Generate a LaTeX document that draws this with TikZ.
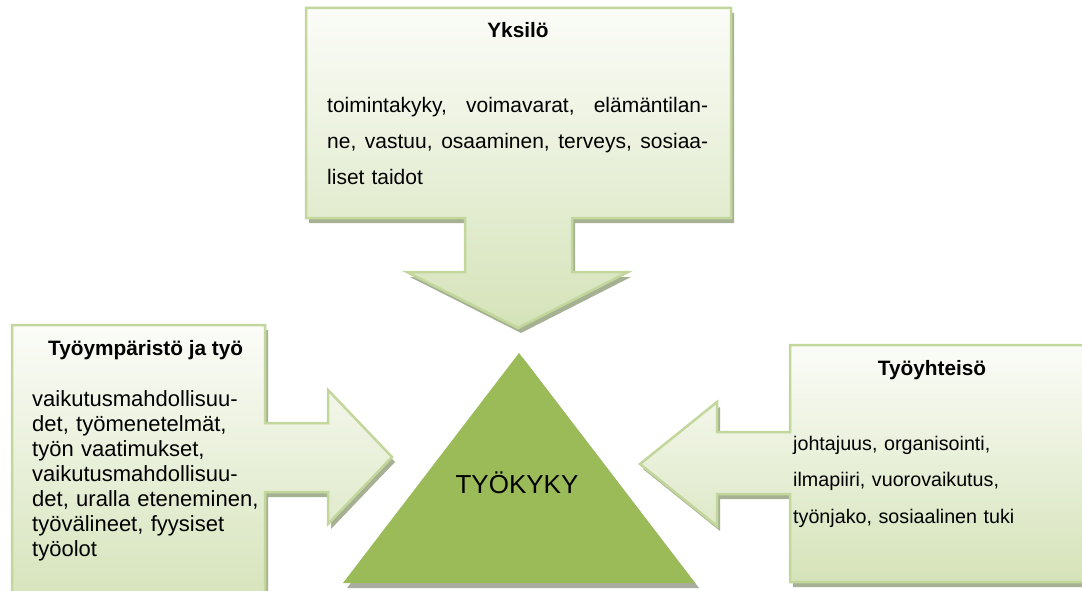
\documentclass[tikz,border=0pt]{standalone}
\usepackage{fontspec}
\setmainfont{Liberation Sans}

\definecolor{calloutborder}{HTML}{C3D69B}
\definecolor{callouttop}{HTML}{FBFCF8}
\definecolor{calloutbottom}{HTML}{D5E3B9}
\definecolor{calloutshadow}{HTML}{A6B194}
\definecolor{trianglefill}{HTML}{9BBB59}
\definecolor{triangleshadow}{HTML}{A9ADA0}

% Outlines of the three callouts (box + stem + arrow head), in pixel units
\newcommand\yksilopath[1]{\path[#1] (306,8) -- (731,8) -- (731,218) -- (572,218)
  -- (572,272) -- (628,272) -- (518,328) -- (407,272) -- (465,272) -- (465,218)
  -- (306,218) -- cycle;}
\newcommand\ymparistopath[1]{\path[#1] (12,325) -- (265,325) -- (265,423) -- (328,423)
  -- (328,390) -- (392,457) -- (328,524) -- (328,492) -- (265,492) -- (265,610)
  -- (12,610) -- cycle;}
\newcommand\yhteisopath[1]{\path[#1] (790,345) -- (1095,345) -- (1095,582) -- (790,582)
  -- (790,494) -- (717,494) -- (717,526) -- (640,464) -- (717,402) -- (717,432)
  -- (790,432) -- cycle;}
\newcommand\kolmiopath[1]{\path[#1] (519,353) -- (695,583) -- (343,583) -- cycle;}

% a justified line: interword spaces stretch to fill the given width
\newcommand\fullline[2]{\makebox[#1][s]{\spaceskip=0pt\xspaceskip=0pt\relax #2}}

\tikzset{
  callout/.style={draw=calloutborder, line width=2.5pt, line join=miter,
    top color=callouttop, bottom color=calloutbottom},
  calloutshade/.style={fill=calloutshadow, shift={(3,5)}},
  titletext/.style={font=\fontsize{20.8}{25}\selectfont\bfseries, inner sep=0pt},
  bodytext/.style={inner sep=0pt, anchor=base west, align=left},
}

\begin{document}
\begin{tikzpicture}[x=1pt,y=-1pt]
  \useasboundingbox (0,0) rectangle (1082,591);
  \fill[white] (0,0) rectangle (1082,591);

  % callouts with their drop shadows
  \yksilopath{calloutshade}
  \ymparistopath{calloutshade}
  \yhteisopath{calloutshade}
  \yksilopath{callout}
  \ymparistopath{callout}
  \yhteisopath{callout}

  % central triangle
  \kolmiopath{fill=triangleshadow, shift={(4,5)}}
  \kolmiopath{fill=trianglefill}

  % texts
  \node[titletext, anchor=base] (yksilo) at (518,38) {Yksilö};
  \node[bodytext, text width=381pt, font=\fontsize{21}{36}\selectfont]
    (yksiloteksti) at (327,113)
    {\fullline{381pt}{toimintakyky, voimavarat, elämäntilan-}\\
     \fullline{381pt}{ne, vastuu, osaaminen, terveys, sosiaa-}\\
     liset taidot};

  \node[titletext, anchor=base west] (ymparisto) at (48,355) {Työympäristö ja työ};
  \node[bodytext, text width=240pt, font=\fontsize{22}{25}\selectfont]
    (ymparistoteksti) at (32,406)
    {vaikutusmahdollisuu-\\det, työmenetelmät,\\työn vaatimukset,\\vaikutusmahdollisuu-\\det, uralla eteneminen,\\työvälineet, fyysiset\\työolot};

  \node[titletext, anchor=base] (yhteiso) at (932,375) {Työyhteisö};
  \node[bodytext, text width=285pt, font=\fontsize{19.7}{36.5}\selectfont]
    (yhteisoteksti) at (793,450)
    {johtajuus, organisointi,\\ilmapiiri, vuorovaikutus,\\työnjako, sosiaalinen tuki};

  \node[font=\fontsize{26}{30}\selectfont, inner sep=0pt, anchor=base]
    (tyokyky) at (517,493) {TYÖKYKY};
\end{tikzpicture}
\end{document}
